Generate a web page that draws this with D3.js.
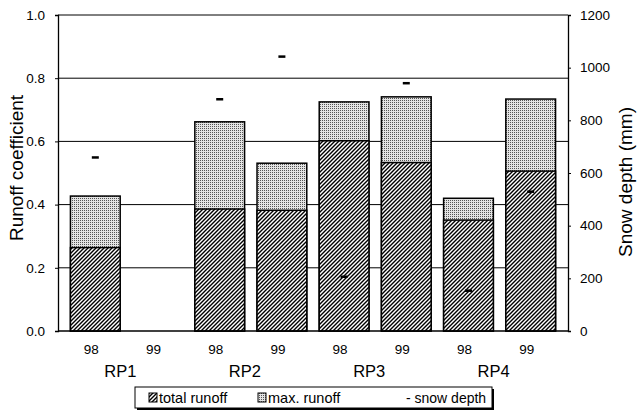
<!DOCTYPE html>
<html>
<head>
<meta charset="utf-8">
<script src="https://cdn.jsdelivr.net/npm/d3@7"></script>
<style>
  body { margin: 0; background: #fff; }
  text { font-family: "Liberation Sans", Arial, sans-serif; fill: #000; }
</style>
</head>
<body>
<div id="chart"></div>
<script>
// data
const sites = ['RP1', 'RP2', 'RP3', 'RP4'];
const years = ['98', '99'];
const totalRunoff = [0.264, null, 0.386, 0.382, 0.602, 0.533, 0.351, 0.506];
const maxRunoff = [0.427, null, 0.662, 0.531, 0.725, 0.741, 0.420, 0.734];
const snowDepth = [659, null, 880, 1042, 206, 941, 153, 529];
const leftTicks = [0, 0.2, 0.4, 0.6, 0.8, 1.0];
const rightTicks = [0, 200, 400, 600, 800, 1000, 1200];

const width = 637, height = 414;
const margin = {top: 15, right: 69, bottom: 83, left: 58};
const font = '"Liberation Sans", Arial, sans-serif';

const svg = d3.select('#chart').append('svg').attr('width', width).attr('height', height);
const defs = svg.append('defs');

// hatched pattern for total runoff
const hatch = defs.append('pattern').attr('id', 'hatch')
  .attr('patternUnits', 'userSpaceOnUse').attr('width', 4).attr('height', 4);
hatch.append('rect').attr('width', 4).attr('height', 4).attr('fill', '#fff');
hatch.append('path').attr('d', 'M-1,1 l2,-2 M0,4 l4,-4 M3,5 l2,-2')
  .attr('stroke', '#000').attr('stroke-width', 1.4);

// stippled pattern for max runoff
const dots = defs.append('pattern').attr('id', 'dots')
  .attr('patternUnits', 'userSpaceOnUse').attr('width', 2).attr('height', 2);
dots.append('rect').attr('width', 2).attr('height', 2).attr('fill', '#e4e4e4');
dots.append('rect').attr('width', 1).attr('height', 1).attr('fill', '#555');

const cats = [];
sites.forEach(s => years.forEach(y => cats.push(s + '-' + y)));

const x = d3.scaleBand().domain(cats).range([margin.left, width - margin.right]).padding(0.2);
const y = d3.scaleLinear().domain([0, 1]).range([height - margin.bottom, margin.top]);
const ySnow = d3.scaleLinear().domain([0, 1200]).range([height - margin.bottom, margin.top]);

// gridlines
svg.append('g').selectAll('line').data(leftTicks.slice(1)).join('line')
  .attr('x1', margin.left).attr('x2', width - margin.right)
  .attr('y1', d => y(d)).attr('y2', d => y(d))
  .attr('stroke', '#000').attr('stroke-width', 1);

const bars = svg.append('g');
cats.forEach((c, i) => {
  if (maxRunoff[i] == null) return;
  bars.append('rect').attr('x', x(c)).attr('width', x.bandwidth())
    .attr('y', y(maxRunoff[i])).attr('height', y(0) - y(maxRunoff[i]))
    .attr('fill', 'url(#dots)').attr('stroke', '#000').attr('stroke-width', 1.5);
  bars.append('rect').attr('x', x(c)).attr('width', x.bandwidth())
    .attr('y', y(totalRunoff[i])).attr('height', y(0) - y(totalRunoff[i]))
    .attr('fill', 'url(#hatch)').attr('stroke', '#000').attr('stroke-width', 1.5);
});

// snow depth markers
svg.append('g').selectAll('line').data(cats.filter((c, i) => snowDepth[i] != null)).join('line')
  .attr('x1', c => x(c) + x.bandwidth() / 2 - 3.5)
  .attr('x2', c => x(c) + x.bandwidth() / 2 + 3.5)
  .attr('y1', c => ySnow(snowDepth[cats.indexOf(c)]))
  .attr('y2', c => ySnow(snowDepth[cats.indexOf(c)]))
  .attr('stroke', '#000').attr('stroke-width', 2.5);

// axes
const leftAxis = svg.append('g').attr('transform', `translate(${margin.left},0)`)
  .call(d3.axisLeft(y).tickValues(leftTicks).tickFormat(d3.format('.1f')).tickSize(3).tickPadding(10));
const rightAxis = svg.append('g').attr('transform', `translate(${width - margin.right},0)`)
  .call(d3.axisRight(ySnow).tickValues(rightTicks).tickFormat(d3.format('d')).tickSize(3).tickPadding(9));
[leftAxis, rightAxis].forEach(a => {
  a.select('.domain').attr('stroke', '#000').attr('stroke-width', 1.3);
  a.selectAll('text').attr('font-size', 13.5).attr('font-family', font);
});

svg.append('line').attr('x1', margin.left).attr('x2', width - margin.right)
  .attr('y1', y(0)).attr('y2', y(0)).attr('stroke', '#000').attr('stroke-width', 1.5);

// x labels
svg.append('g').selectAll('text').data(cats).join('text')
  .attr('x', c => x(c) + x.bandwidth() / 2 - 4).attr('y', y(0) + 23)
  .attr('text-anchor', 'middle').attr('font-size', 13.5).text(c => c.split('-')[1]);
svg.append('g').selectAll('text').data(sites).join('text')
  .attr('x', s => (x(s + '-98') + x(s + '-99') + x.bandwidth()) / 2 - 6)
  .attr('y', y(0) + 46).attr('text-anchor', 'middle').attr('font-size', 16.5).text(s => s);

// axis titles
svg.append('text').attr('transform', 'translate(23,168) rotate(-90)')
  .attr('text-anchor', 'middle').attr('font-size', 19).text('Runoff coefficient');
svg.append('text').attr('transform', 'translate(632,182) rotate(-90)')
  .attr('text-anchor', 'middle').attr('font-size', 19).text('Snow depth (mm)');

// legend
const lg = svg.append('g').attr('transform', 'translate(135,387)');
lg.append('rect').attr('x', 2).attr('y', 2).attr('width', 357).attr('height', 21).attr('fill', '#000');
lg.append('rect').attr('width', 357).attr('height', 21).attr('fill', '#fff')
  .attr('stroke', '#000').attr('stroke-width', 1);
const legendItems = [
  {label: 'total runoff', fill: 'url(#hatch)', x: 14},
  {label: 'max. runoff', fill: 'url(#dots)', x: 123}
];
legendItems.forEach(d => {
  lg.append('rect').attr('x', d.x).attr('y', 6).attr('width', 8).attr('height', 9)
    .attr('fill', d.fill).attr('stroke', '#000').attr('stroke-width', 1);
  lg.append('text').attr('x', d.x + 10).attr('y', 16).attr('font-size', 14.5).text(d.label);
});
lg.append('text').attr('x', 271).attr('y', 16).attr('font-size', 14).text('- snow depth');
</script>
</body>
</html>
